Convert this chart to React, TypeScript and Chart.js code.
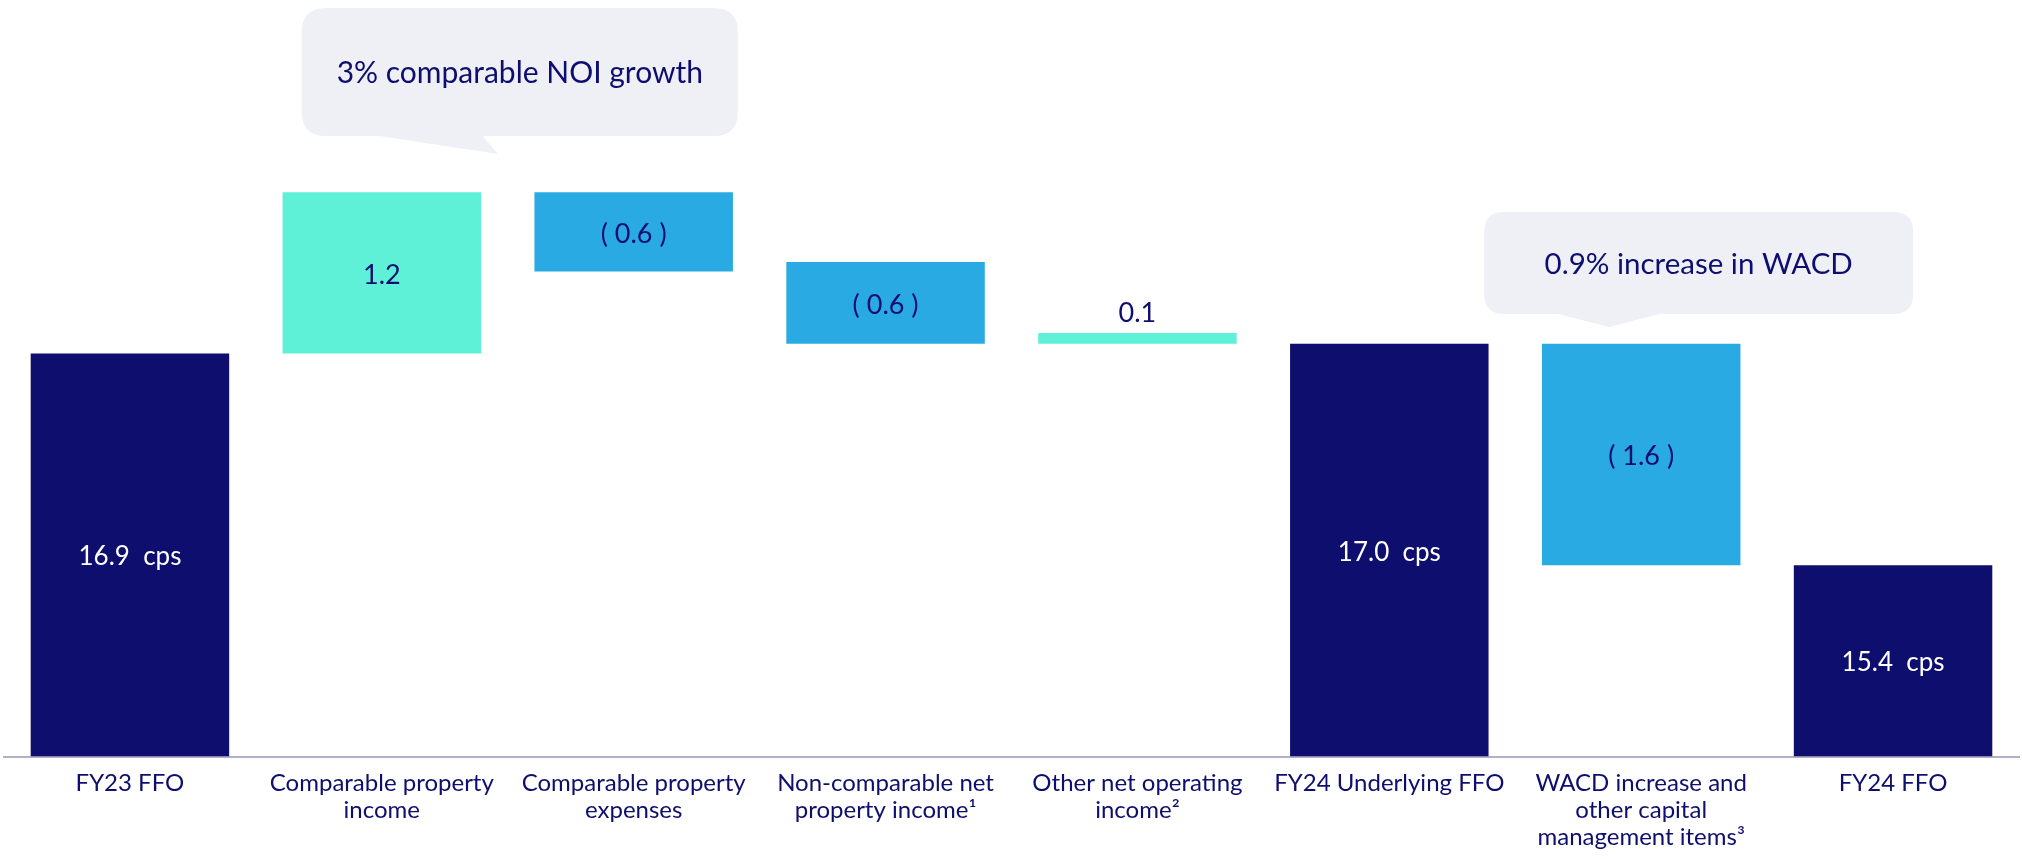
import React, { useEffect, useRef } from "react";
import { Chart, registerables } from "chart.js";

Chart.register(...registerables);

const categories: (string | string[])[] = [
  "FY23 FFO",
  ["Comparable property", "income"],
  ["Comparable property", "expenses"],
  ["Non-comparable net", "property income¹"],
  ["Other net operating", "income²"],
  "FY24 Underlying FFO",
  ["WACD increase and", "other capital", "management items³"],
  "FY24 FFO",
];

const barStart = [14, 16.95, 17.55, 17.02, 17.02, 14, 15.4, 14];
const barEnd = [16.95, 18.13, 18.13, 17.62, 17.1, 17.02, 17.02, 15.4];
const valueLabels = ["16.9  cps", "1.2", "( 0.6 )", "( 0.6 )", "0.1", "17.0  cps", "( 1.6 )", "15.4  cps"];
const barKinds = ["total", "up", "down", "down", "up", "total", "down", "total"];

const calloutTexts = ["3% comparable NOI growth", "0.9% increase in WACD"];
const calloutAnchorIndex = [1, 6];

const NAVY = "#0e0e6e";
const TEAL = "#5ff0d8";
const BLUE = "#2aaae2";
const CALLOUT_BG = "#eff0f6";
const FONT = "Lato, 'Open Sans', sans-serif";

const kindColor = (k: string) => (k === "total" ? NAVY : k === "up" ? TEAL : BLUE);

function roundRect(ctx: CanvasRenderingContext2D, x: number, y: number, w: number, h: number, r: number) {
  ctx.beginPath();
  ctx.moveTo(x + r, y);
  ctx.lineTo(x + w - r, y);
  ctx.quadraticCurveTo(x + w, y, x + w, y + r);
  ctx.lineTo(x + w, y + h - r);
  ctx.quadraticCurveTo(x + w, y + h, x + w - r, y + h);
  ctx.lineTo(x + r, y + h);
  ctx.quadraticCurveTo(x, y + h, x, y + h - r);
  ctx.lineTo(x, y + r);
  ctx.quadraticCurveTo(x, y, x + r, y);
  ctx.closePath();
}

const labelsPlugin = {
  id: "barLabels",
  afterDatasetsDraw(chart: any) {
    const ctx = chart.ctx as CanvasRenderingContext2D;
    const meta = chart.getDatasetMeta(0);
    ctx.save();
    ctx.textAlign = "center";
    ctx.textBaseline = "middle";
    meta.data.forEach((bar: any, i: number) => {
      const top = Math.min(bar.y, bar.base);
      const bottom = Math.max(bar.y, bar.base);
      const kind = barKinds[i];
      ctx.fillStyle = kind === "total" ? "#ffffff" : NAVY;
      ctx.font = kind === "total" ? `26px ${FONT}` : `27px ${FONT}`;
      if (bottom - top < 30) {
        ctx.fillText(valueLabels[i], bar.x, top - 20);
      } else {
        ctx.fillText(valueLabels[i], bar.x, (top + bottom) / 2 + 2);
      }
    });
    ctx.restore();
  },
};

const calloutPlugin = {
  id: "callouts",
  afterDatasetsDraw(chart: any) {
    const ctx = chart.ctx as CanvasRenderingContext2D;
    const xs = chart.scales.x;
    const geo = [
      { l: -80, r: 356, t: 8, b: 136, tl: -9, tr: 100, tx: 116, ty: 154, rad: 24, fs: 30 },
      { l: -157, r: 272, t: 212, b: 314, tl: -87, tr: 22, tx: -32, ty: 327, rad: 20, fs: 29.5 },
    ];
    ctx.save();
    calloutTexts.forEach((text, i) => {
      const cx = xs.getPixelForValue(calloutAnchorIndex[i]);
      const g = geo[i];
      ctx.fillStyle = CALLOUT_BG;
      roundRect(ctx, cx + g.l, g.t, g.r - g.l, g.b - g.t, g.rad);
      ctx.fill();
      ctx.beginPath();
      ctx.moveTo(cx + g.tl, g.b - 1);
      ctx.lineTo(cx + g.tx, g.ty);
      ctx.lineTo(cx + g.tr, g.b - 1);
      ctx.closePath();
      ctx.fill();
      ctx.fillStyle = NAVY;
      ctx.font = `${g.fs}px ${FONT}`;
      ctx.textAlign = "center";
      ctx.textBaseline = "middle";
      ctx.fillText(text, cx + (g.l + g.r) / 2, (g.t + g.b) / 2 + 1);
    });
    ctx.restore();
  },
};

export default function App() {
  const ref = useRef<HTMLCanvasElement>(null);
  useEffect(() => {
    document.body.style.margin = "0";
    if (!ref.current) return;
    const chart = new Chart(ref.current, {
      type: "bar",
      data: {
        labels: categories,
        datasets: [
          {
            data: barStart.map((s, i) => [s, barEnd[i]]) as any,
            backgroundColor: barKinds.map(kindColor),
            borderWidth: 0,
            categoryPercentage: 1,
            barPercentage: 0.788,
          },
        ],
      },
      options: {
        animation: false,
        responsive: false,
        devicePixelRatio: 1,
        layout: { padding: { top: 5, left: 4, right: 3, bottom: 0 } },
        plugins: { legend: { display: false }, tooltip: { enabled: false } },
        scales: {
          x: {
            grid: { display: false, drawTicks: false },
            border: { display: true, color: "#b0b1c8", width: 2 },
            ticks: {
              color: NAVY,
              font: { family: FONT, size: 24, lineHeight: 1.13 },
              padding: 13,
              maxRotation: 0,
              autoSkip: false,
            },
            afterFit(scale: any) {
              scale.height = 102.5;
            },
          },
          y: { display: false, min: 14, max: 19.5 },
        },
      },
      plugins: [labelsPlugin, calloutPlugin],
    });
    return () => chart.destroy();
  }, []);
  return (
    <div style={{ width: 2022, height: 859 }}>
      <canvas ref={ref} width={2022} height={859} style={{ display: "block" }} />
    </div>
  );
}
